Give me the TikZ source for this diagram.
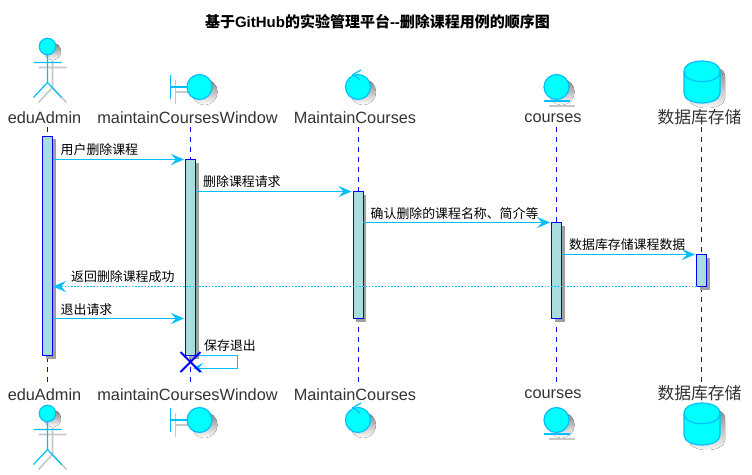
\documentclass[tikz,border=0pt]{standalone}
\usepackage{fontspec}
\setmainfont{Liberation Sans}
\newfontfamily\cjk{Noto Sans CJK SC}
\usetikzlibrary{arrows.meta}
\definecolor{sky}{HTML}{00BFFF}
\definecolor{aqua}{HTML}{00FFFF}
\definecolor{purebar}{HTML}{0000FF}
\definecolor{barfill}{HTML}{A9DCDF}
\definecolor{shade}{HTML}{C8C8C8}
\definecolor{barshadow}{HTML}{A0A0A0}
\tikzset{
  x=1pt,y=-1pt,
  life/.style={purebar,line width=0.9pt,dash pattern=on 5pt off 5pt},
  bar/.style={draw=purebar,fill=barfill,line width=1pt,rectangle,inner sep=0pt,outer sep=0pt,minimum width=10pt,anchor=north},
  barshade/.style={fill=barshadow,draw=none,rectangle,inner sep=0pt,outer sep=0pt,minimum width=10pt,anchor=north},
  msg/.style={sky,line width=0.9pt,-{Stealth[length=13pt,width=11pt,inset=5pt]}},
  selfmsg/.style={sky,line width=0.9pt,-{Stealth[length=10pt,width=10pt,inset=4pt]}},
  ret/.style={msg,dash pattern=on 1.6pt off 1.6pt},
  msgtxt/.style={font=\cjk\fontsize{12.9}{14}\selectfont,anchor=base west,inner sep=0pt,text=black},
  headtxt/.style={font=\fontsize{16.3}{18}\selectfont,anchor=center,inner sep=0pt,text=black!80},
  headcjk/.style={font=\cjk\fontsize{16.8}{18}\selectfont,anchor=center,inner sep=0pt,text=black!80},
  ink/.style={draw=sky,line width=1.2pt},
  blob/.style={draw=sky,fill=aqua,line width=1.2pt},
  sh/.style={draw=shade,line width=1.6pt},
}
\newcommand{\actorfig}[2]{%
  \begin{scope}[shift={(#1+5,#2+5)}]
    \draw[sh] (-14,16)--(14,16) (0,8)--(0,36) (-14,51)--(0,36)--(14,51);
    \fill[shade] (0,0) circle (8.5);
  \end{scope}
  \begin{scope}[shift={(#1,#2)}]
    \draw[ink] (-14,16)--(14,16) (0,8)--(0,36) (-14,51)--(0,36)--(14,51);
    \draw[blob] (0,0) circle (8.2);
  \end{scope}}
\newcommand{\boundfig}[2]{%
  \begin{scope}[shift={(#1+5,#2+5)}]
    \draw[sh] (-20,-12)--(-20,12) (-20,0)--(-3,0);
    \fill[shade] (9,0) circle (13);
  \end{scope}
  \begin{scope}[shift={(#1,#2)}]
    \draw[ink] (-20,-12)--(-20,12) (-20,0)--(-3,0);
    \draw[blob] (9,0) circle (12.5);
  \end{scope}}
\newcommand{\ctrlfig}[2]{%
  \begin{scope}[shift={(#1+5,#2+5)}]
    \fill[shade] (0,0) circle (13);
  \end{scope}
  \begin{scope}[shift={(#1,#2)}]
    \draw[blob] (0,0) circle (12.5);
    \draw[ink] (3,-17)--(-5,-12.5)--(2,-7);
  \end{scope}}
\newcommand{\entfig}[2]{%
  \begin{scope}[shift={(#1+5,#2+5)}]
    \fill[shade] (0,0) circle (13);
    \draw[sh] (-13,14)--(13,14);
  \end{scope}
  \begin{scope}[shift={(#1,#2)}]
    \draw[blob] (0,0) circle (12.5);
    \draw[ink] (-13,14)--(13,14);
  \end{scope}}
\newcommand{\dbfig}[2]{%
  \begin{scope}[shift={(#1+5,#2+5)}]
    \fill[shade] (-18,10.5) .. controls (-18,-3.5) and (18,-3.5) .. (18,10.5) -- (18,32) .. controls (18,45.3) and (-18,45.3) .. (-18,32) -- cycle;
  \end{scope}
  \begin{scope}[shift={(#1,#2)}]
    \draw[blob] (-18,10.5) .. controls (-18,-3.5) and (18,-3.5) .. (18,10.5) -- (18,32) .. controls (18,45.3) and (-18,45.3) .. (-18,32) -- cycle;
    \draw[ink] (-18,10.5) .. controls (-18,24.1) and (18,24.1) .. (18,10.5);
  \end{scope}}
\begin{document}
\begin{tikzpicture}
\useasboundingbox (0,0) rectangle (752,474);
\fill[white] (0,0) rectangle (752,474);
% title
\node[font=\bfseries\fontsize{15}{16}\selectfont,anchor=center,inner sep=0pt] (title) at (377.5,21.5)
  {{\cjk 基于}GitHub{\cjk 的实验管理平台}-{}-{\cjk 删除课程用例的顺序图}};
% head labels
\node[headtxt] (h1) at (44.5,118) {eduAdmin};
\node[headtxt] (h2) at (187.5,118) {maintainCoursesWindow};
\node[headtxt] (h3) at (355,118) {MaintainCourses};
\node[headtxt] (h4) at (553,118) {courses};
\node[headcjk] (h5) at (699.5,117) {数据库存储};
\node[headtxt] (f1) at (44.5,394.5) {eduAdmin};
\node[headtxt] (f2) at (187.5,394.5) {maintainCoursesWindow};
\node[headtxt] (f3) at (355,394.5) {MaintainCourses};
\node[headtxt] (f4) at (553,394.5) {courses};
\node[headcjk] (f5) at (699.5,393.5) {数据库存储};
% figures
\actorfig{47.5}{46.5}
\boundfig{190.5}{87}
\ctrlfig{358}{87}
\entfig{556.5}{87}
\dbfig{702}{61}
\actorfig{47.5}{413.5}
\boundfig{190.5}{420}
\ctrlfig{358}{420}
\entfig{556.5}{420}
\dbfig{702}{403}
% lifelines
\coordinate (t1) at (47.5,127); \coordinate (b1) at (47.5,382);
\coordinate (t2) at (190.5,127); \coordinate (b2) at (190.5,382);
\coordinate (t3) at (358,127); \coordinate (b3) at (358,382);
\coordinate (t4) at (556.5,127); \coordinate (b4) at (556.5,382);
\coordinate (t5) at (701.5,127); \coordinate (b5) at (701.5,382);
\foreach \i in {1,...,5}{\draw[life] (t\i)--(b\i);}
% activation shadows and bars
\node[barshade,minimum height=219.5pt] at (50.5,139) {};
\node[barshade,minimum height=196pt] at (193.5,162.5) {};
\node[barshade,minimum height=127pt] at (361,194.5) {};
\node[barshade,minimum height=96pt] at (559.5,225.5) {};
\node[barshade,minimum height=32pt] at (704.5,257.5) {};
\node[bar,minimum height=219.5pt] (a1) at (47.5,136) {};
\node[bar,minimum height=196pt] (a2) at (190.5,159.5) {};
\node[bar,minimum height=127pt] (a3) at (358,191.5) {};
\node[bar,minimum height=96pt] (a4) at (556.5,222.5) {};
\node[bar,minimum height=32pt] (a5) at (701.5,254.5) {};
% messages
\coordinate (m1) at (0,159.5); \coordinate (m2) at (0,191.5); \coordinate (m3) at (0,222.5);
\coordinate (m4) at (0,254.5); \coordinate (m5) at (0,286.5); \coordinate (m6) at (0,318.5);
\coordinate (s0) at (237.5,355.5); \coordinate (s1) at (237.5,368);
\coordinate (xe) at (193,368);
\draw[msg] (a1.east |- m1) -- ([xshift=-1.5pt]a2.west |- m1);
\draw[msg] (a2.east |- m2) -- ([xshift=-1.5pt]a3.west |- m2);
\draw[msg] (a3.east |- m3) -- ([xshift=-1.5pt]a4.west |- m3);
\draw[msg] (a4.east |- m4) -- ([xshift=-1.5pt]a5.west |- m4);
\draw[ret] (a5.west |- m5) -- ([xshift=.5pt]a1.east |- m5);
\draw[msg] (a1.east |- m6) -- ([xshift=-1.5pt]a2.west |- m6);
\draw[selfmsg] (a2.south east) -- (s0) -- (s1) -- (xe);
\draw[purebar,line width=2pt] (180.5,352)--(200.5,372) (180.5,372)--(200.5,352);
% labels
\node[msgtxt] (l1) at (60.5,154.5) {用户删除课程};
\node[msgtxt] (l2) at (203,186.5) {删除课程请求};
\node[msgtxt] (l3) at (370.5,218) {确认删除的课程名称、简介等};
\node[msgtxt] (l4) at (569,249.5) {数据库存储课程数据};
\node[msgtxt] (l5) at (71,281.5) {返回删除课程成功};
\node[msgtxt] (l6) at (60.5,314) {退出请求};
\node[msgtxt] (l7) at (204,350.5) {保存退出};
\end{tikzpicture}
\end{document}
